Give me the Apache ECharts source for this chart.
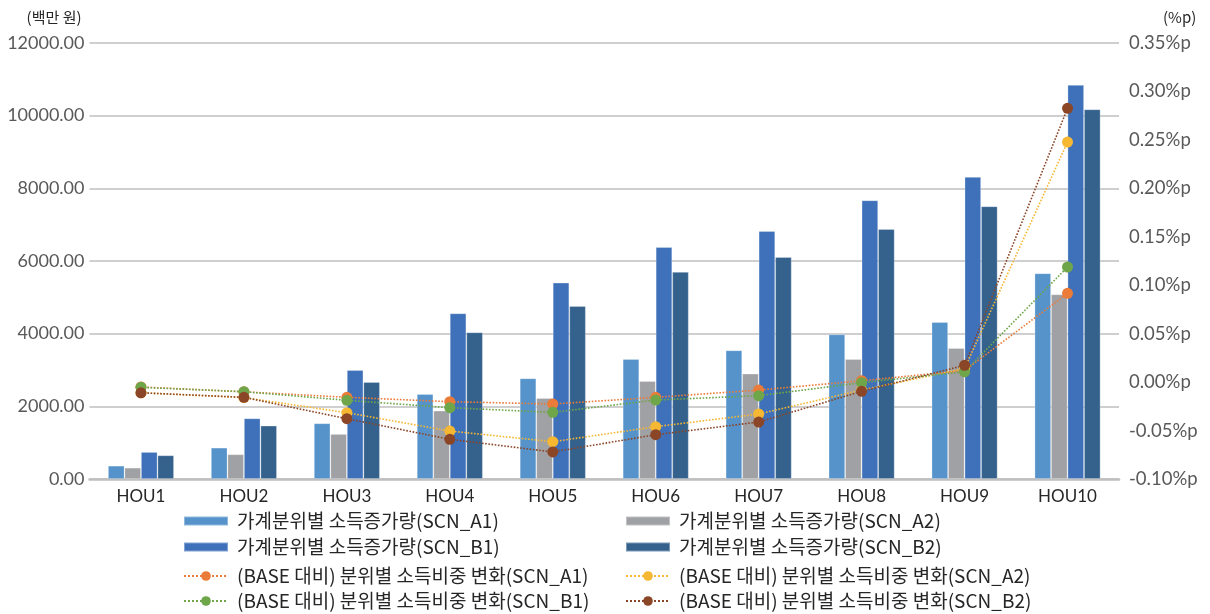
<!DOCTYPE html>
<html>
<head>
<meta charset="utf-8">
<script src="https://cdn.jsdelivr.net/npm/echarts@6/dist/echarts.min.js"></script>
<style>
  html, body { margin: 0; padding: 0; background: #fff; }
  #chart { width: 1210px; height: 614px; }
</style>
</head>
<body>
<div id="chart"></div>
<script>
// Household income deciles
const categories = ['HOU1', 'HOU2', 'HOU3', 'HOU4', 'HOU5', 'HOU6', 'HOU7', 'HOU8', 'HOU9', 'HOU10'];

// 가계분위별 소득증가량 (백만 원)
const incA1 = [366, 862, 1533, 2340, 2771, 3303, 3542, 3982, 4321, 5662];
const incA2 = [311, 680, 1239, 1880, 2230, 2697, 2899, 3303, 3606, 5084];
const incB1 = [743, 1670, 3000, 4560, 5404, 6386, 6826, 7671, 8313, 10845];
const incB2 = [652, 1468, 2670, 4038, 4762, 5698, 6110, 6881, 7506, 10176];

// (BASE 대비) 분위별 소득비중 변화 (%p)
const shareA1 = [-0.005, -0.010, -0.0157, -0.0202, -0.0226, -0.0157, -0.0082, 0.0014, 0.0120, 0.0916];
const shareA2 = [-0.011, -0.016, -0.0316, -0.0505, -0.0615, -0.0460, -0.0329, -0.0082, 0.0140, 0.2478];
const shareB1 = [-0.0054, -0.0099, -0.0188, -0.0264, -0.0312, -0.0185, -0.0140, -0.0006, 0.0107, 0.1188];
const shareB2 = [-0.011, -0.0157, -0.0378, -0.0590, -0.0721, -0.0543, -0.0412, -0.0095, 0.0173, 0.2826];

const barNames = {
  A1: '가계분위별 소득증가량(SCN_A1)',
  A2: '가계분위별 소득증가량(SCN_A2)',
  B1: '가계분위별 소득증가량(SCN_B1)',
  B2: '가계분위별 소득증가량(SCN_B2)'
};
const lineNames = {
  A1: '(BASE 대비) 분위별 소득비중 변화(SCN_A1)',
  A2: '(BASE 대비) 분위별 소득비중 변화(SCN_A2)',
  B1: '(BASE 대비) 분위별 소득비중 변화(SCN_B1)',
  B2: '(BASE 대비) 분위별 소득비중 변화(SCN_B2)'
};

const FONT = '"Noto Sans CJK KR", "Noto Sans", sans-serif';
const NUMFONT = 'Lato, "Noto Sans", sans-serif';

function bar(name, data, color) {
  return {
    name, type: 'bar', data,
    barWidth: 16.5, barGap: '0%',
    itemStyle: { color, borderColor: 'rgba(255,255,255,0.35)', borderWidth: 0.8 },
    z: 2
  };
}
function line(name, data, color) {
  return {
    name, type: 'line', yAxisIndex: 1, data,
    symbol: 'circle', symbolSize: 11,
    itemStyle: { color },
    lineStyle: { color, width: 1.6, type: 'dotted' },
    z: 5
  };
}

const legendText = { fontFamily: FONT, fontSize: 19, lineHeight: 20, color: '#262626', padding: [0, 0, 0, 4] };
const legendBase = { orient: 'vertical', padding: 0, itemWidth: 44 };

const option = {
  backgroundColor: '#fff',
  animation: false,
  textStyle: { fontFamily: FONT },
  grid: { left: 89.5, right: 91, top: 43, bottom: 135, containLabel: false },
  legend: [
    Object.assign({}, legendBase, { left: 183, top: 511, itemGap: 6, itemHeight: 9, icon: 'rect',
      data: [barNames.A1, barNames.B1], textStyle: legendText }),
    Object.assign({}, legendBase, { left: 625, top: 511, itemGap: 6, itemHeight: 9, icon: 'rect',
      data: [barNames.A2, barNames.B2], textStyle: legendText }),
    Object.assign({}, legendBase, { left: 183, top: 566, itemGap: 5, itemHeight: 12,
      data: [lineNames.A1, lineNames.B1], textStyle: legendText }),
    Object.assign({}, legendBase, { left: 625, top: 566, itemGap: 5, itemHeight: 12,
      data: [lineNames.A2, lineNames.B2], textStyle: legendText })
  ],
  xAxis: {
    type: 'category', data: categories,
    axisLine: { lineStyle: { color: '#BFBFBF', width: 2.5 } },
    axisTick: { show: false },
    axisLabel: { fontFamily: NUMFONT, fontSize: 17, color: '#262626', margin: 9 }
  },
  yAxis: [
    {
      type: 'value', min: 0, max: 12000, interval: 2000,
      name: '(백만 원)', nameLocation: 'end', nameGap: 18,
      nameTextStyle: { fontFamily: FONT, fontSize: 15, color: '#262626', align: 'right', padding: [0, 8, 0, 0] },
      axisLine: { show: false }, axisTick: { show: false },
      axisLabel: { fontFamily: NUMFONT, fontSize: 18, color: '#595959', margin: 5,
        formatter: v => v.toFixed(2) },
      splitLine: { lineStyle: { color: '#BFBFBF', width: 1.5 } }
    },
    {
      type: 'value', min: -0.10, max: 0.35, interval: 0.05,
      name: '(%p)', nameLocation: 'end', nameGap: 18,
      nameTextStyle: { fontFamily: FONT, fontSize: 15, color: '#262626', align: 'left', padding: [0, 0, 0, 44] },
      axisLine: { show: false }, axisTick: { show: false },
      axisLabel: { fontFamily: NUMFONT, fontSize: 18.5, color: '#595959', margin: 10,
        formatter: v => v.toFixed(2) + '%p' },
      splitLine: { show: false }
    }
  ],
  series: [
    bar(barNames.A1, incA1, '#5593CA'),
    bar(barNames.A2, incA2, '#A0A1A4'),
    bar(barNames.B1, incB1, '#3F71BA'),
    bar(barNames.B2, incB2, '#35628D'),
    line(lineNames.A1, shareA1, '#EB7B38'),
    line(lineNames.A2, shareA2, '#F6B733'),
    line(lineNames.B1, shareB1, '#6FA64A'),
    line(lineNames.B2, shareB2, '#8B4527')
  ]
};

const chart = echarts.init(document.getElementById('chart'), null, { renderer: 'canvas' });
chart.setOption(option);
</script>
</body>
</html>
